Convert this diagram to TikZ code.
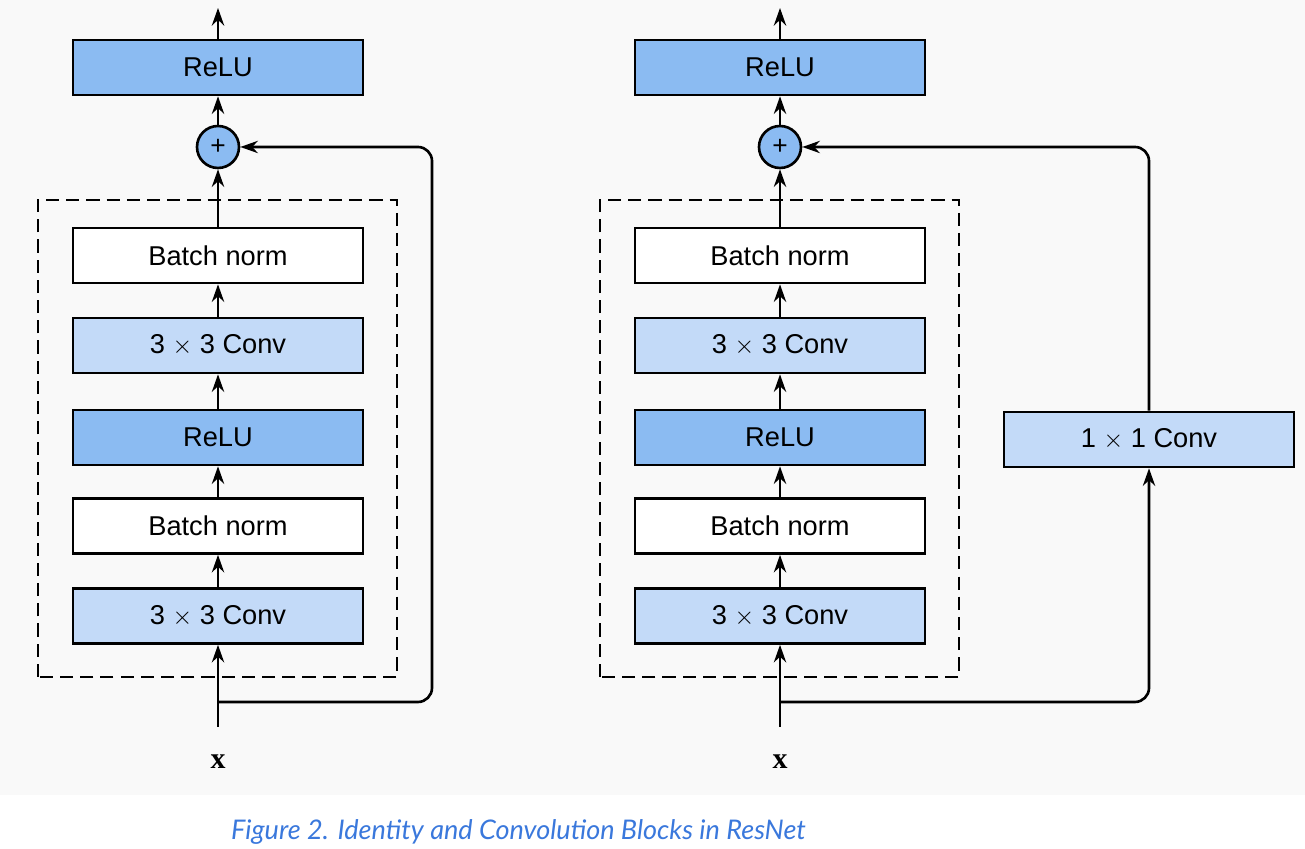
\documentclass[tikz,border=0pt]{standalone}
\usepackage{fontspec}
\setmainfont{Liberation Sans}
\newfontfamily\captionfont{Lato}
\newfontfamily\inputfont{Liberation Serif}
\usetikzlibrary{arrows.meta}
\definecolor{relublue}{HTML}{8BBBF2}
\definecolor{convblue}{HTML}{C3DAF8}
\definecolor{bggray}{HTML}{F9F9F9}
\definecolor{capblue}{HTML}{3A78DC}
\tikzset{
  layer/.style={draw,line width=1.5pt,minimum width=5.8cm,minimum height=1.1cm,inner sep=0pt,font=\fontsize{15.5}{18}\selectfont},
  relulayer/.style={layer,fill=relublue},
  convlayer/.style={layer,fill=convblue},
  normlayer/.style={layer,fill=white},
  addnode/.style={draw,circle,line width=1.5pt,fill=relublue,minimum size=0.84cm,inner sep=0pt,font=\fontsize{15}{18}\selectfont},
  blockbox/.style={draw,line width=1.5pt,dash pattern=on 7.5pt off 4pt},
  inputlabel/.style={font=\inputfont\bfseries\fontsize{17}{20}\selectfont},
  flow/.style={line width=1.5pt,->}
}

\begin{document}
\begin{tikzpicture}[>={Stealth[length=10pt,width=7pt]}]
		\useasboundingbox (0,0) rectangle (26.1,16.98);
		\fill[bggray] (0,1.08) rectangle (26.1,16.98);
		\draw[blockbox] (0.76,3.44) rectangle (7.94,12.98);
		\draw[blockbox] (12.0,3.44) rectangle (19.18,12.98);
		\node[relulayer] (relu1) at (4.36,15.63) {ReLU};
		\node[addnode] (add1) at (4.36,14.04) {+};
		\node[normlayer] (bn1b) at (4.36,11.87) {Batch norm};
		\node[convlayer] (conv1b) at (4.36,10.07) {3 $\times$ 3 Conv};
		\node[relulayer] (relu1a) at (4.36,8.23) {ReLU};
		\node[normlayer] (bn1a) at (4.36,6.46) {Batch norm};
		\node[convlayer] (conv1a) at (4.36,4.66) {3 $\times$ 3 Conv};
		\node[inputlabel] (x1) at (4.36,1.74) {x};
		\coordinate (in1) at (4.36,2.44);
		\coordinate (split1) at (4.36,2.94);
		\coordinate (out1) at (4.36,16.82);
		\node[relulayer] (relu2) at (15.6,15.63) {ReLU};
		\node[addnode] (add2) at (15.6,14.04) {+};
		\node[normlayer] (bn2b) at (15.6,11.87) {Batch norm};
		\node[convlayer] (conv2b) at (15.6,10.07) {3 $\times$ 3 Conv};
		\node[relulayer] (relu2a) at (15.6,8.23) {ReLU};
		\node[normlayer] (bn2a) at (15.6,6.46) {Batch norm};
		\node[convlayer] (conv2a) at (15.6,4.66) {3 $\times$ 3 Conv};
		\node[convlayer] (short2) at (22.98,8.19) {1 $\times$ 1 Conv};
		\node[inputlabel] (x2) at (15.6,1.74) {x};
		\coordinate (in2) at (15.6,2.44);
		\coordinate (split2) at (15.6,2.94);
		\coordinate (out2) at (15.6,16.82);
		\draw[flow] (in1) -- (conv1a);
		\draw[flow] (conv1a) -- (bn1a);
		\draw[flow] (bn1a) -- (relu1a);
		\draw[flow] (relu1a) -- (conv1b);
		\draw[flow] (conv1b) -- (bn1b);
		\draw[flow] (bn1b) -- (add1);
		\draw[flow] (add1) -- (relu1);
		\draw[flow] (relu1) -- (out1);
		\draw[flow,rounded corners=8pt] (split1) -- ++(4.28,0) |- (add1);
		\draw[flow] (in2) -- (conv2a);
		\draw[flow] (conv2a) -- (bn2a);
		\draw[flow] (bn2a) -- (relu2a);
		\draw[flow] (relu2a) -- (conv2b);
		\draw[flow] (conv2b) -- (bn2b);
		\draw[flow] (bn2b) -- (add2);
		\draw[flow] (add2) -- (relu2);
		\draw[flow] (relu2) -- (out2);
		\draw[flow,rounded corners=8pt] (split2) -| (short2);
		\draw[flow,rounded corners=8pt] (short2) |- (add2);
		\node[font=\captionfont\itshape\fontsize{15.4}{18}\selectfont,text=capblue] (caption) at (10.37,0.34) {Figure 2. Identity and Convolution Blocks in ResNet};
\end{tikzpicture}
\end{document}
